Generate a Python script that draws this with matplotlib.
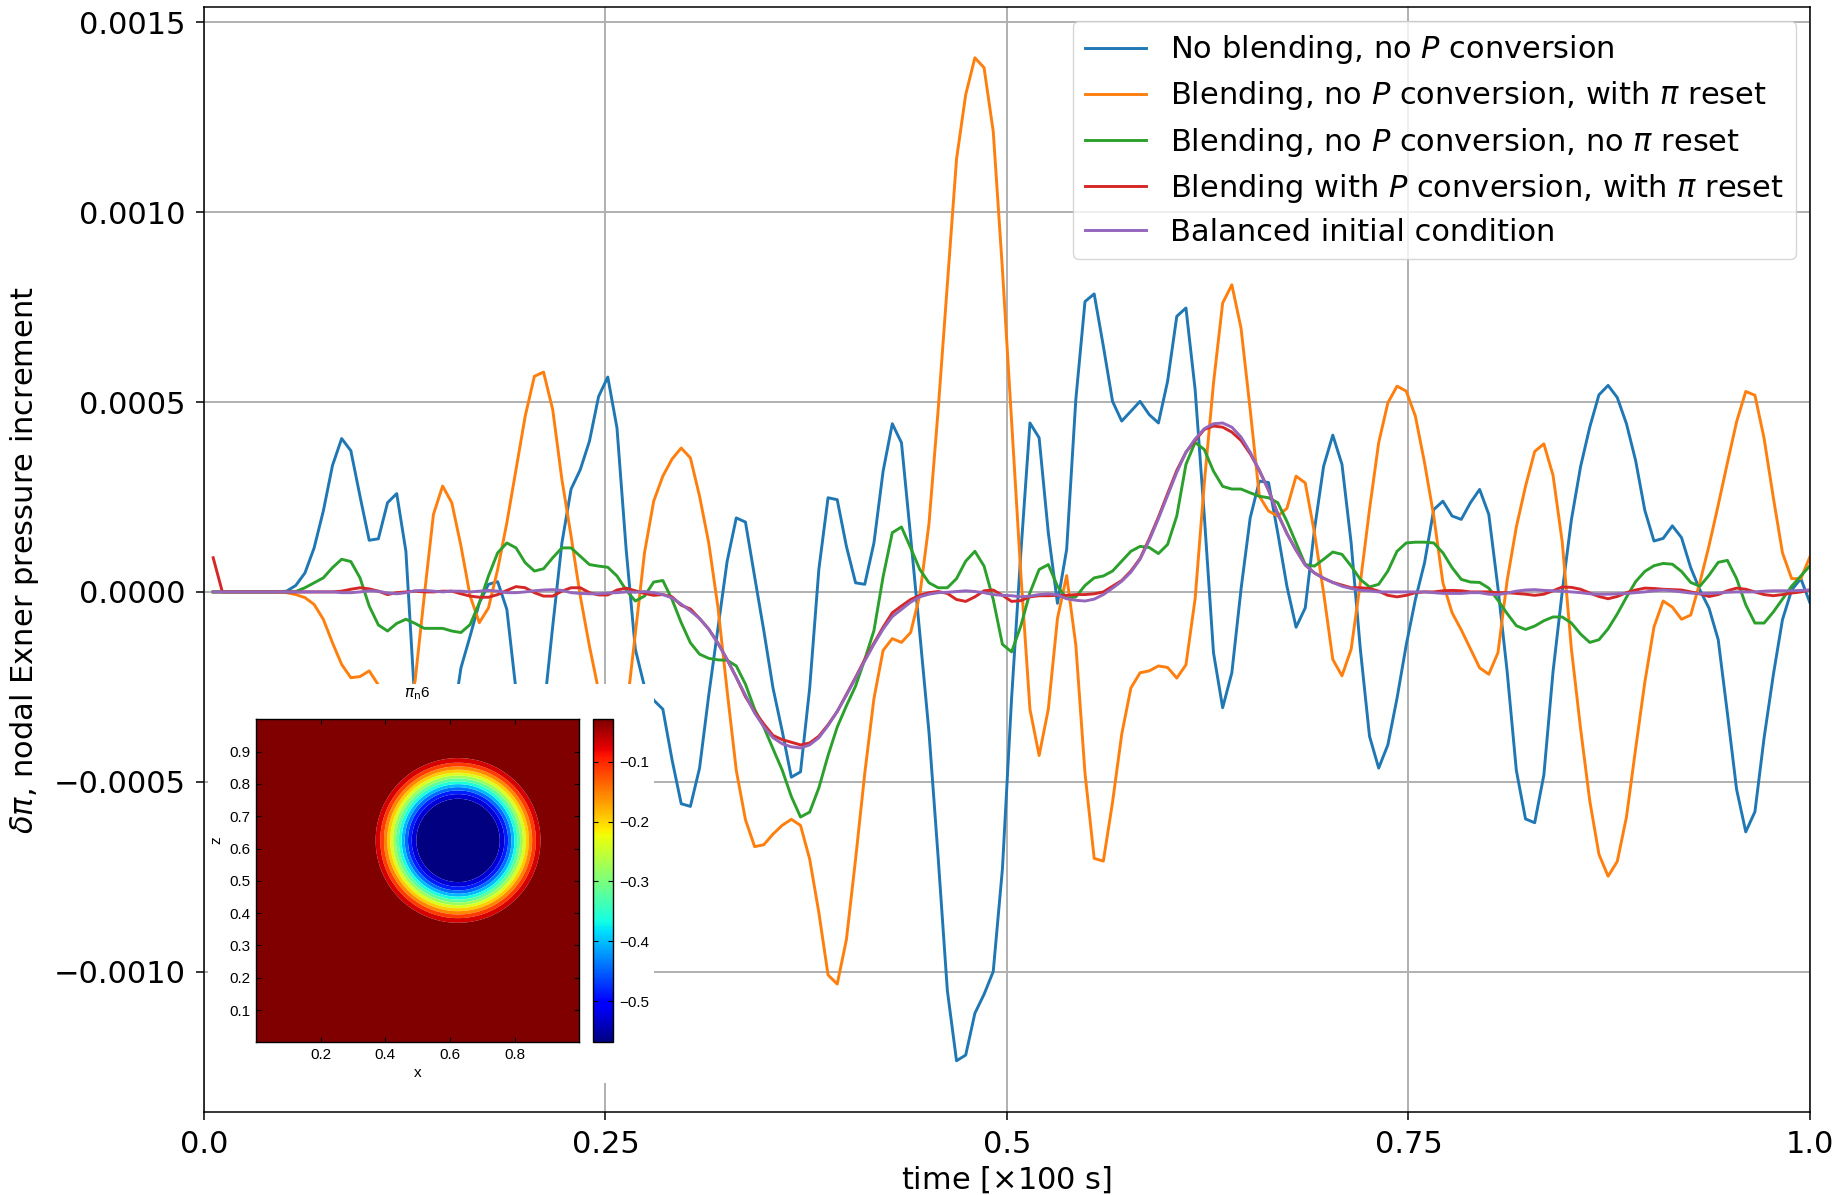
import numpy as np
import matplotlib
matplotlib.use("Agg")
import matplotlib.pyplot as plt
from matplotlib import cm, colors

# ---------------------------------------------------------------------------
# time levels, in units of 100 s
n_steps = 175
time = np.arange(1, n_steps + 1) / n_steps

# nodal Exner pressure increments, in units of 1e-4
no_blend = [
    0, 0, 0, 0, 0, 0, 0, 0,
    0.02, 0.17, 0.50, 1.16, 2.13, 3.33, 4.04, 3.72, 2.52, 1.36, 1.40, 2.35,
    2.59, 1.07, -3.0, -4.8, -5.5, -5.2, -3.6, -2.0, -1.16, -0.29,
    0.20, 0.27, -0.46, -2.6, -4.0, -4.5, -3.2, -0.9, 1.29, 2.71,
    3.22, 3.97, 5.15, 5.66, 4.32, 1.12, -1.51, -2.5, -2.85, -3.09,
    -4.42, -5.58, -5.65, -4.64, -2.72, -0.97, 0.8, 1.95, 1.84, 0.4,
    -1.02, -2.53, -3.66, -4.88, -4.74, -2.53, 0.6, 2.48, 2.43, 1.2,
    0.24, 0.2, 1.29, 3.18, 4.43, 3.93, 1.45, -1.1, -3.7, -7.0,
    -10.5, -12.35, -12.2, -11.1, -10.6, -10.0, -7.3, -2.8, 1.0, 4.45,
    4.06, 1.56, -0.3, 1.12, 5.07, 7.65, 7.85, 6.47, 5.02, 4.5,
    4.76, 5.02, 4.67, 4.45, 5.55, 7.26, 7.48, 5.33, 2.0, -1.6,
    -3.05, -2.13, 0.07, 1.95, 2.92, 2.88, 1.56, 0.15, -0.93, -0.42,
    1.64, 3.31, 4.13, 3.36, 1.29, -1.5, -3.8, -4.64, -4.03, -2.8,
    -1.4, -0.2, 0.77, 2.17, 2.39, 2.0, 1.91, 2.35, 2.7, 2.04,
    0.1, -2.1, -4.7, -5.98, -6.08, -4.82, -2.1, 0.0, 1.9, 3.3,
    4.34, 5.19, 5.44, 5.12, 4.43, 3.46, 2.15, 1.34, 1.41, 1.74,
    1.43, 0.64, 0.05, -0.43, -1.26, -3.2, -5.2, -6.32, -5.79, -3.84,
    -2.19, -0.73, 0.05, 0.35, -0.29,
]

blend_reset = [
    0, 0, 0, 0, 0, 0, 0, 0,
    -0.02, -0.07, -0.15, -0.33, -0.72, -1.34, -1.91, -2.26, -2.23, -2.08, -2.45, -3.0,
    -3.4, -3.2, -2.35, -0.11, 2.04, 2.79, 2.35, 1.21, -0.11, -0.81,
    -0.42, 0.59, 1.82, 3.22, 4.63, 5.68, 5.79, 4.8, 2.96, 1.47,
    -0.11, -1.43, -2.6, -3.4, -3.8, -3.2, -1.1, 1.03, 2.39, 3.05,
    3.5, 3.79, 3.53, 2.52, 1.29, -0.4, -2.6, -4.7, -6.0, -6.71,
    -6.66, -6.38, -6.15, -5.99, -6.15, -7.04, -8.45, -10.09, -10.33, -9.16,
    -7.04, -4.78, -2.81, -1.54, -1.23, -1.33, -1.07, -0.08, 1.8, 4.8,
    8.1, 11.4, 13.1, 14.07, 13.81, 12.13, 8.5, 4.5, 0.5, -3.09,
    -4.31, -3.09, -0.7, 0.43, -1.4, -4.78, -7.02, -7.09, -5.54, -3.75,
    -2.53, -2.13, -2.08, -1.95, -1.99, -2.27, -1.92, -0.18, 2.87, 5.5,
    7.61, 8.09, 6.95, 4.8, 2.52, 2.13, 2.0, 2.2, 3.05, 2.87,
    1.56, -0.02, -1.78, -2.21, -1.51, 0.24, 2.17, 3.93, 4.98, 5.42,
    5.29, 4.63, 3.4, 2.0, 0.24, -0.55, -1.0, -1.5, -2.0, -2.17,
    -1.6, 0.3, 1.71, 2.78, 3.7, 3.9, 3.07, 1.32, -1.5, -3.6,
    -5.5, -6.91, -7.49, -7.1, -5.93, -4.13, -2.38, -0.92, -0.24, -0.4,
    -0.72, -0.61, 0.25, 1.22, 2.29, 3.4, 4.48, 5.28, 5.18, 4.04,
    2.49, 1.03, 0.35, 0.35, 0.93,
]

blend_noreset = [
    0, 0, 0, 0, 0, 0, 0, 0,
    0.0, 0.01, 0.11, 0.24, 0.37, 0.64, 0.86, 0.8, 0.37, -0.37, -0.87, -1.03,
    -0.83, -0.72, -0.83, -0.96, -0.96, -0.96, -1.03, -1.07, -0.86, -0.29,
    0.42, 1.03, 1.29, 1.16, 0.77, 0.55, 0.61, 0.9, 1.16, 1.16,
    0.94, 0.72, 0.68, 0.65, 0.42, 0.05, -0.24, -0.11, 0.26, 0.3,
    -0.2, -0.81, -1.34, -1.64, -1.75, -1.79, -1.8, -1.95, -2.43, -3.09,
    -3.56, -4.13, -4.69, -5.39, -5.93, -5.8, -5.16, -4.31, -3.56, -3.0,
    -2.48, -1.78, -1.02, 0.4, 1.56, 1.71, 1.16, 0.59, 0.24, 0.11,
    0.11, 0.35, 0.81, 1.07, 0.68, -0.2, -1.38, -1.58, -0.9, -0.02,
    0.59, 0.72, 0.15, -0.17, -0.13, 0.17, 0.37, 0.42, 0.55, 0.81,
    1.07, 1.2, 1.17, 1.01, 1.25, 2.0, 3.36, 3.94, 3.75, 3.18,
    2.78, 2.71, 2.71, 2.61, 2.52, 2.48, 2.35, 1.86, 1.29, 0.72,
    0.68, 0.86, 1.05, 0.99, 0.68, 0.33, 0.13, 0.2, 0.55, 1.07,
    1.29, 1.31, 1.31, 1.29, 1.03, 0.64, 0.33, 0.26, 0.25, 0.1,
    -0.22, -0.57, -0.89, -0.99, -0.9, -0.76, -0.66, -0.66, -0.82, -1.11,
    -1.33, -1.26, -0.97, -0.58, -0.14, 0.27, 0.54, 0.69, 0.75, 0.73,
    0.54, 0.25, 0.15, 0.44, 0.78, 0.83, 0.35, -0.34, -0.82, -0.82,
    -0.53, -0.19, 0.15, 0.42, 0.69,
]

blend_pconv = [
    0.9, 0, 0, 0, 0, 0, 0, 0, 0, 0, 0, 0, 0,
    0.0, 0.02, 0.07, 0.11, 0.08, 0.02, -0.07,
    -0.02, 0.0, 0.02, 0.0, 0.0, 0.02, 0.02, -0.05, -0.11, -0.14,
    -0.14, -0.07, 0.04, 0.14, 0.11, -0.02, -0.11, -0.11, 0.02, 0.11,
    0.11, -0.02, -0.08, -0.08, 0.05, 0.1, 0.03, -0.04, -0.09, -0.07,
    -0.13, -0.35, -0.45, -0.7, -0.98, -1.35, -1.78, -2.25, -2.76, -3.15,
    -3.48, -3.78, -3.89, -3.96, -4.03, -3.98, -3.8, -3.5, -3.15, -2.7,
    -2.25, -1.78, -1.35, -0.93, -0.55, -0.37, -0.2, -0.09, -0.02, 0.01,
    -0.04, -0.2, -0.25, -0.13, 0.03, 0.05, -0.09, -0.25, -0.23, -0.13,
    -0.1, -0.1, -0.09, -0.09, -0.07, -0.07, -0.05, 0.0, 0.15, 0.3,
    0.55, 0.88, 1.4, 1.97, 2.59, 3.2, 3.68, 3.99, 4.28, 4.37,
    4.34, 4.21, 3.99, 3.64, 3.2, 2.68, 2.06, 1.54, 1.1, 0.71,
    0.5, 0.36, 0.25, 0.18, 0.11, 0.11, 0.09, 0.02, -0.09, -0.13,
    -0.09, -0.02, 0.0, 0.0, 0.03, 0.04, 0.03, 0.0, 0.0, 0.0,
    -0.02, -0.02, -0.04, -0.06, -0.09, -0.06, 0.03, 0.13, 0.12, 0.07,
    -0.03, -0.12, -0.18, -0.12, -0.02, 0.05, 0.1, 0.09, 0.07, 0.06,
    0.05, 0.0, -0.05, -0.12, -0.07, 0.03, 0.1, 0.07, 0.0, -0.07,
    -0.1, -0.07, -0.03, 0.0, 0.05,
]

balanced = [
    0, 0, 0, 0, 0, 0, 0, 0, 0, 0, 0, 0, 0,
    0.0, -0.02, -0.02, 0.0, 0.03, 0.02, -0.03,
    -0.05, -0.02, 0.03, 0.04, 0.02, 0.0, 0.02, 0.02, 0.0, 0.02,
    0.04, 0.02, -0.02, -0.02, 0.0, 0.03, 0.05, 0.06, 0.04, -0.02,
    -0.04, -0.05, -0.05, -0.03, -0.02, 0.0, -0.01, 0.01, -0.02, -0.07,
    -0.16, -0.32, -0.5, -0.7, -0.98, -1.35, -1.78, -2.25, -2.72, -3.19,
    -3.55, -3.84, -4.0, -4.08, -4.11, -4.03, -3.84, -3.52, -3.15, -2.72,
    -2.27, -1.82, -1.38, -0.98, -0.65, -0.46, -0.27, -0.13, -0.06, -0.02,
    -0.01, 0.01, 0.03, 0.01, -0.02, -0.07, -0.09, -0.1, -0.13, -0.11,
    -0.07, -0.05, -0.08, -0.18, -0.22, -0.24, -0.19, -0.07, 0.1, 0.28,
    0.52, 0.86, 1.36, 1.93, 2.54, 3.15, 3.68, 4.03, 4.3, 4.43,
    4.45, 4.34, 4.08, 3.68, 3.2, 2.68, 2.06, 1.54, 1.1, 0.71,
    0.5, 0.36, 0.25, 0.15, 0.09, 0.04, 0.03, 0.0, 0.0, 0.0,
    0.0, 0.0, 0.0, -0.02, -0.04, -0.04, -0.04, -0.02, -0.02, -0.06,
    -0.07, -0.03, 0.02, 0.05, 0.06, 0.04, 0.03, 0.02, 0.0, -0.02,
    -0.05, -0.06, -0.06, -0.05, -0.04, -0.02, 0.0, 0.03, 0.05, 0.03,
    0.0, -0.03, -0.05, -0.04, -0.03, -0.01, 0.0, 0.0, 0.0, 0.02,
    0.03, 0.03, 0.03, 0.04, 0.05,
]

series_labels = [
    r"No blending, no $P$ conversion",
    r"Blending, no $P$ conversion, with $\pi$ reset",
    r"Blending, no $P$ conversion, no $\pi$ reset",
    r"Blending with $P$ conversion, with $\pi$ reset",
    r"Balanced initial condition",
]
series_values = [no_blend, blend_reset, blend_noreset, blend_pconv, balanced]
series_colors = ["#1f77b4", "#ff7f0e", "#2ca02c", "#d62728", "#9467bd"]
value_unit = 1e-4

x_ticks = [0.0, 0.25, 0.5, 0.75, 1.0]
x_tick_labels = ["0.0", "0.25", "0.5", "0.75", "1.0"]
y_ticks = [-0.0010, -0.0005, 0.0, 0.0005, 0.0010, 0.0015]

# bubble snapshot shown in the inset (pi_n at output 6)
bubble_center = (0.625, 0.625)
bubble_inner, bubble_outer = 0.096, 0.288
pi_min, pi_max = -0.569, -0.029
n_bands = 14

# ---------------------------------------------------------------------------
W, H, DPI = 1849, 1195, 100
FS = 22
fig = plt.figure(figsize=(W / DPI, H / DPI), dpi=DPI)
ax = fig.add_axes([204 / W, 1 - 1112 / H, (1810 - 204) / W, (1112 - 7.3) / H])

for vals, lab, col in zip(series_values, series_labels, series_colors):
    ax.plot(time, np.asarray(vals) * value_unit, color=col, lw=2.1, label=lab)

ax.set_xlim(0, 1.0)
ax.set_ylim(-0.00137, 0.00154)
ax.set_xticks(x_ticks)
ax.set_xticklabels(x_tick_labels)
ax.set_yticks(y_ticks)
ax.grid(True, color="#b0b0b0", lw=1.4)
ax.tick_params(labelsize=FS, length=6, width=1.1, pad=7)
for s in ax.spines.values():
    s.set_linewidth(1.1)
ax.set_xlabel(r"time [$\times$100 s]", fontsize=FS, labelpad=4)
ax.set_ylabel(r"$\delta\pi$, nodal Exner pressure increment", fontsize=FS, labelpad=9)
ax.legend(loc="upper right", fontsize=FS, handlelength=2.0, labelspacing=0.43,
          borderaxespad=0.45)

# white panel holding the bubble snapshot
box = fig.add_axes([208 / W, 1 - 1083 / H, (654 - 208) / W, (1083 - 684) / H])
box.set_facecolor("white")
box.set_xticks([])
box.set_yticks([])
for s in box.spines.values():
    s.set_visible(False)

inset_font = ["Liberation Sans", "DejaVu Sans"]
axi = fig.add_axes([256 / W, 1 - 1042.3 / H, (579.3 - 256) / W, (1042.3 - 719.3) / H])
gx = np.linspace(0, 1, 301)
GX, GZ = np.meshgrid(gx, gx)
rr = np.hypot(GX - bubble_center[0], GZ - bubble_center[1])
ss = np.clip((rr - bubble_inner) / (bubble_outer - bubble_inner), 0, 1)
field = pi_min + (pi_max - pi_min) * 0.5 * (1 - np.cos(np.pi * ss))
levels = np.linspace(pi_min, pi_max, n_bands + 1)
levels[0] -= 1e-6
levels[-1] += 1e-6
jet = plt.get_cmap("jet")
band_colors = [jet(i / (n_bands - 1)) for i in range(n_bands)]
axi.contourf(GX, GZ, field, levels=levels, colors=band_colors, antialiased=True)
axi.set_xlim(0, 1)
axi.set_ylim(0, 1)
axi.set_xticks([0.2, 0.4, 0.6, 0.8])
axi.set_yticks([0.1, 0.2, 0.3, 0.4, 0.5, 0.6, 0.7, 0.8, 0.9])
axi.tick_params(direction="in", top=True, right=True, length=3.5, width=0.8,
                labelsize=11, pad=4)
for lab in axi.get_xticklabels() + axi.get_yticklabels():
    lab.set_family(inset_font)
for s in axi.spines.values():
    s.set_linewidth(1.0)

cax = fig.add_axes([593.3 / W, 1 - 1042.3 / H, 20 / W, (1042.3 - 719.3) / H])
sm = cm.ScalarMappable(norm=colors.Normalize(pi_min, pi_max), cmap=jet)
cb = fig.colorbar(sm, cax=cax)
cb.set_ticks([-0.5, -0.4, -0.3, -0.2, -0.1])
cb.outline.set_linewidth(1.0)
cax.tick_params(direction="in", left=True, right=True, length=3.5, width=0.8,
                labelsize=11, pad=4)
for lab in cax.get_yticklabels():
    lab.set_family(inset_font)

fig.text(417.5 / W, 1 - 694 / H, r"$\pi_{\mathrm{n}}$6", ha="center", va="center",
         fontsize=11, family=inset_font)
fig.text(417.5 / W, 1 - 1073 / H, "x", ha="center", va="center", fontsize=11,
         family=inset_font)
fig.text(216 / W, 1 - 840 / H, "z", ha="center", va="center", fontsize=11,
         rotation=90, family=inset_font)

fig.savefig("out.png", dpi=DPI)
